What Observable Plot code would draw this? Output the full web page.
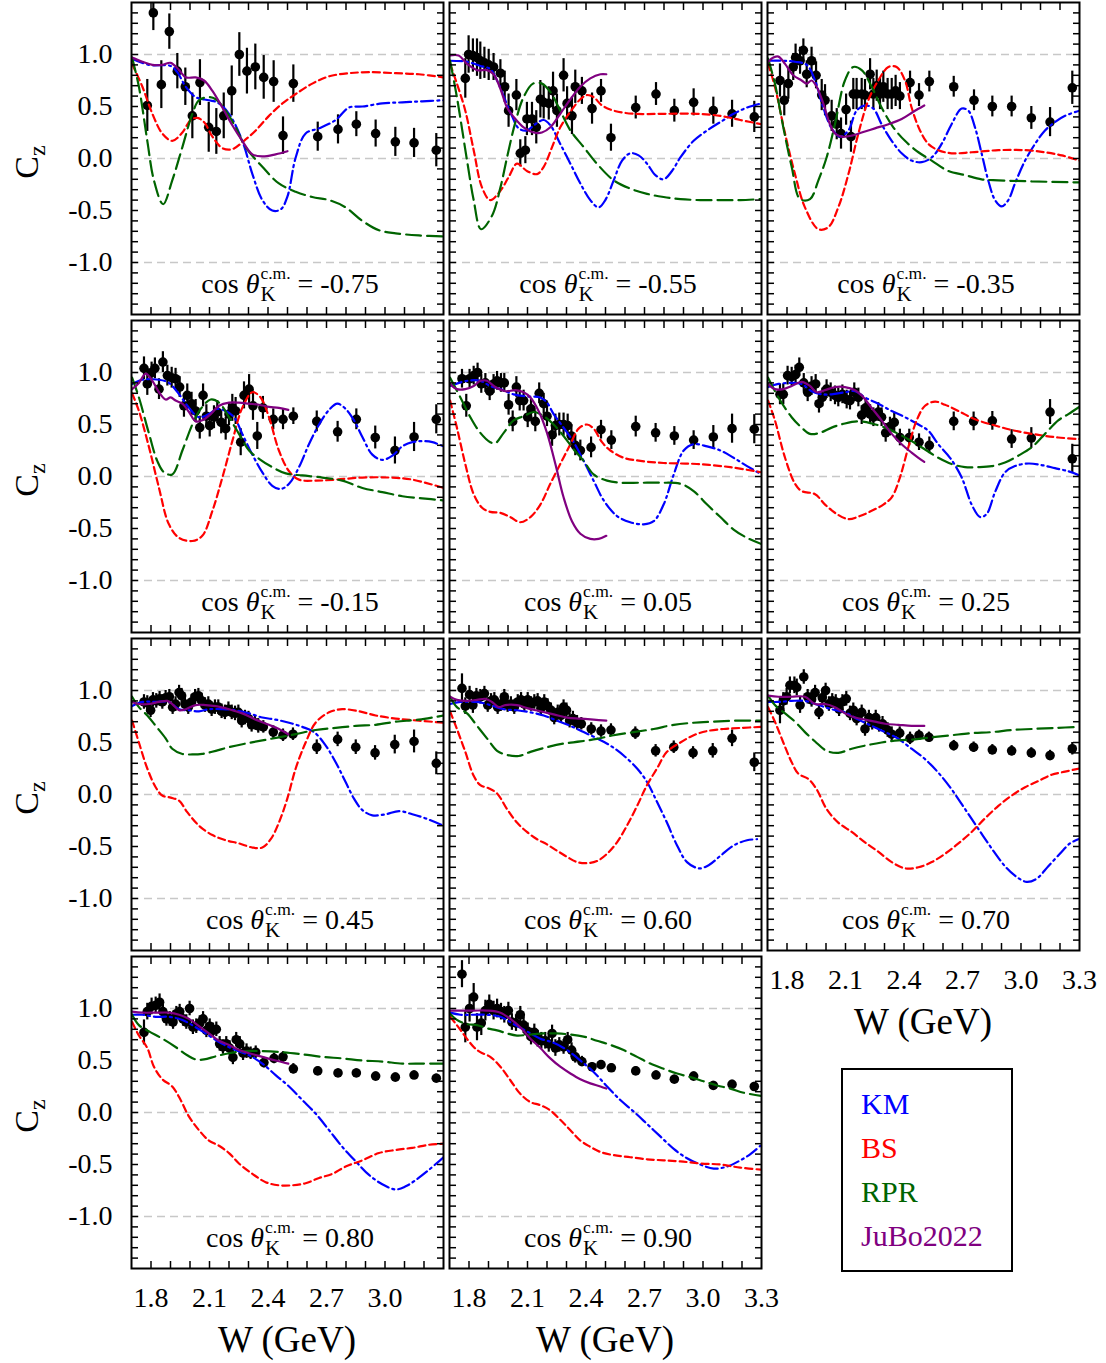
<!DOCTYPE html>
<html><head><meta charset="utf-8">
<script src="https://cdn.jsdelivr.net/npm/d3@7"></script>
<script src="https://cdn.jsdelivr.net/npm/@observablehq/plot@0.6"></script>
<style>
body{margin:0;background:#fff;}
#fig{position:relative;width:1106px;height:1363px;font-family:"Liberation Serif","Times New Roman",serif;background:#fff;}
#fig svg{position:absolute;overflow:visible;}
#legend{position:absolute;left:841px;top:1068px;width:172px;height:204px;box-sizing:border-box;border:2px solid #000;background:#fff;}
#legend div{position:absolute;left:18px;font-size:30px;line-height:30px;}
</style></head><body><div id="fig"></div><script>
// ---- tick values / labels ----
const xMinorTicks = [1.8,1.9,2.0,2.1,2.2,2.3,2.4,2.5,2.6,2.7,2.8,2.9,3.0,3.1,3.2];
const yMinorTicks = [-1.4,-1.3,-1.2,-1.1,-1.0,-0.9,-0.8,-0.7,-0.6,-0.5,-0.4,-0.3,-0.2,-0.1,0,0.1,0.2,0.3,0.4,0.5,0.6,0.7,0.8,0.9,1.0,1.1,1.2,1.3,1.4];
const yLabelTicks = [-1.0,-0.5,0.0,0.5,1.0];
const xLabelTicks = [1.8,2.1,2.4,2.7,3.0,3.3];
const xLabelTicksShort = [1.8,2.1,2.4,2.7,3.0];
const gridLines = [-1,0,1];
const cosLabels = ["-0.75","-0.55","-0.35","-0.15","0.05","0.25","0.45","0.60","0.70","0.80","0.90"];
const modelNames = ["KM","BS","RPR","JuBo2022"];
const modelColors = ["#0000ff","#ff0000","#006400","#800080"];

// ---- panel cos = -0.75 ----
const data_m075 = [[1.781,0.51,0.25],[1.812,1.40,0.17],[1.853,0.71,0.23],[1.894,1.22,0.17],[1.935,0.84,0.17],[1.976,0.69,0.18],[2.012,0.41,0.22],[2.051,0.73,0.22],[2.096,0.30,0.24],[2.135,0.26,0.22],[2.173,0.41,0.22],[2.214,0.65,0.24],[2.253,1.00,0.21],[2.292,0.84,0.22],[2.335,0.88,0.22],[2.378,0.78,0.21],[2.429,0.74,0.20],[2.477,0.22,0.18],[2.530,0.72,0.18],[2.655,0.21,0.14],[2.759,0.28,0.14],[2.853,0.33,0.12],[2.952,0.24,0.13],[3.053,0.16,0.14],[3.149,0.15,0.14],[3.263,0.08,0.16]];
const km_m075 = [[1.703,0.96],[1.79,0.90],[1.90,0.89],[1.935,0.83],[1.978,0.69],[2.029,0.59],[2.097,0.56],[2.14,0.54],[2.20,0.43],[2.268,0.17],[2.32,-0.15],[2.371,-0.40],[2.422,-0.50],[2.465,-0.49],[2.499,-0.37],[2.542,0.01],[2.593,0.24],[2.662,0.29],[2.747,0.37],[2.815,0.49],[2.884,0.50],[2.986,0.53],[3.089,0.54],[3.191,0.55],[3.30,0.56]];
const bs_m075 = [[1.703,0.91],[1.756,0.69],[1.807,0.43],[1.858,0.24],[1.909,0.17],[1.961,0.25],[2.003,0.37],[2.038,0.39],[2.072,0.35],[2.115,0.21],[2.166,0.10],[2.217,0.09],[2.277,0.17],[2.337,0.27],[2.405,0.41],[2.474,0.53],[2.542,0.62],[2.627,0.72],[2.713,0.79],[2.815,0.82],[2.918,0.83],[3.055,0.82],[3.174,0.81],[3.30,0.78]];
const rpr_m075 = [[1.703,0.97],[1.738,0.69],[1.781,0.17],[1.815,-0.21],[1.862,-0.44],[1.909,-0.21],[1.961,0.11],[2.012,0.43],[2.046,0.56],[2.097,0.59],[2.132,0.57],[2.183,0.46],[2.234,0.30],[2.285,0.11],[2.371,-0.08],[2.456,-0.24],[2.542,-0.32],[2.627,-0.37],[2.713,-0.40],[2.798,-0.47],[2.884,-0.60],[2.969,-0.69],[3.055,-0.72],[3.174,-0.74],[3.30,-0.75]];
const jubo_m075 = [[1.703,0.97],[1.756,0.93],[1.807,0.90],[1.858,0.90],[1.901,0.92],[1.944,0.85],[1.978,0.78],[2.029,0.78],[2.072,0.75],[2.115,0.65],[2.166,0.49],[2.217,0.32],[2.268,0.17],[2.32,0.04],[2.371,0.02],[2.439,0.04],[2.50,0.07]];

// ---- panel cos = -0.55 ----
const data_m055 = [[1.781,0.77,0.19],[1.798,1.00,0.18],[1.820,0.99,0.16],[1.841,0.97,0.18],[1.858,0.94,0.18],[1.879,0.92,0.15],[1.901,0.90,0.15],[1.926,0.88,0.13],[1.961,0.82,0.13],[1.983,0.69,0.15],[2.003,0.46,0.16],[2.043,0.61,0.15],[2.063,0.05,0.13],[2.089,0.08,0.13],[2.097,0.38,0.16],[2.123,0.38,0.16],[2.145,0.30,0.16],[2.166,0.57,0.18],[2.183,0.54,0.16],[2.209,0.53,0.16],[2.231,0.65,0.18],[2.251,0.46,0.16],[2.285,0.80,0.16],[2.303,0.53,0.16],[2.328,0.41,0.18],[2.345,0.69,0.16],[2.379,0.65,0.13],[2.431,0.48,0.15],[2.477,0.65,0.11],[2.528,0.20,0.13],[2.655,0.49,0.11],[2.759,0.62,0.11],[2.853,0.46,0.11],[2.952,0.54,0.13],[3.053,0.46,0.13],[3.149,0.43,0.13],[3.263,0.40,0.15]];
const km_m055 = [[1.703,0.94],[1.79,0.93],[1.858,0.89],[1.909,0.86],[1.944,0.75],[1.986,0.56],[2.02,0.41],[2.055,0.29],[2.097,0.27],[2.14,0.33],[2.183,0.37],[2.217,0.32],[2.268,0.14],[2.32,-0.05],[2.371,-0.24],[2.422,-0.40],[2.465,-0.47],[2.499,-0.40],[2.542,-0.21],[2.585,-0.02],[2.627,0.05],[2.67,0.03],[2.713,-0.05],[2.756,-0.16],[2.798,-0.20],[2.841,-0.12],[2.884,0.01],[2.952,0.17],[3.021,0.27],[3.089,0.35],[3.157,0.43],[3.226,0.49],[3.30,0.53]];
const bs_m055 = [[1.703,0.91],[1.738,0.72],[1.781,0.46],[1.824,0.08],[1.867,-0.28],[1.909,-0.40],[1.961,-0.31],[2.003,-0.18],[2.046,-0.05],[2.097,-0.12],[2.149,-0.15],[2.183,-0.08],[2.226,0.11],[2.268,0.30],[2.32,0.45],[2.371,0.57],[2.405,0.61],[2.439,0.59],[2.482,0.51],[2.542,0.46],[2.644,0.43],[2.798,0.43],[2.969,0.43],[3.089,0.41],[3.191,0.37],[3.30,0.33]];
const rpr_m055 = [[1.703,0.94],[1.738,0.59],[1.79,-0.02],[1.824,-0.40],[1.862,-0.68],[1.918,-0.55],[1.961,-0.28],[1.995,0.01],[2.038,0.35],[2.08,0.59],[2.128,0.72],[2.174,0.72],[2.217,0.64],[2.268,0.46],[2.32,0.27],[2.388,0.11],[2.456,-0.05],[2.542,-0.21],[2.627,-0.29],[2.713,-0.34],[2.798,-0.37],[2.884,-0.39],[2.986,-0.40],[3.089,-0.40],[3.191,-0.40],[3.30,-0.39]];
const jubo_m055 = [[1.703,0.99],[1.747,0.99],[1.79,0.91],[1.841,0.85],[1.892,0.85],[1.926,0.81],[1.961,0.67],[1.995,0.49],[2.029,0.40],[2.08,0.30],[2.132,0.25],[2.174,0.25],[2.217,0.30],[2.268,0.43],[2.32,0.57],[2.371,0.69],[2.422,0.77],[2.474,0.81],[2.504,0.81]];

// ---- panel cos = -0.35 ----
const data_m035 = [[1.764,0.75,0.16],[1.786,0.56,0.15],[1.807,0.72,0.15],[1.832,0.88,0.13],[1.844,0.97,0.13],[1.867,0.94,0.13],[1.884,1.04,0.11],[1.901,0.81,0.13],[1.926,0.94,0.13],[1.949,0.80,0.13],[1.978,0.61,0.15],[1.995,0.56,0.15],[2.029,0.41,0.15],[2.055,0.33,0.15],[2.077,0.24,0.15],[2.103,0.47,0.15],[2.128,0.21,0.15],[2.140,0.62,0.15],[2.157,0.62,0.15],[2.183,0.62,0.15],[2.200,0.61,0.15],[2.226,0.81,0.15],[2.243,0.62,0.15],[2.260,0.70,0.15],[2.277,0.62,0.15],[2.294,0.69,0.15],[2.316,0.62,0.15],[2.337,0.62,0.15],[2.357,0.65,0.15],[2.379,0.60,0.13],[2.431,0.73,0.11],[2.477,0.61,0.11],[2.530,0.74,0.10],[2.655,0.69,0.10],[2.759,0.56,0.10],[2.853,0.50,0.10],[2.952,0.50,0.10],[3.053,0.39,0.11],[3.149,0.35,0.14],[3.263,0.68,0.16]];
const km_m035 = [[1.703,0.94],[1.773,0.94],[1.841,0.93],[1.901,0.90],[1.944,0.75],[1.986,0.49],[2.029,0.29],[2.072,0.21],[2.115,0.27],[2.157,0.46],[2.20,0.51],[2.243,0.48],[2.285,0.33],[2.337,0.17],[2.388,0.05],[2.439,-0.02],[2.491,-0.035],[2.542,0.01],[2.593,0.14],[2.644,0.33],[2.696,0.48],[2.73,0.46],[2.764,0.30],[2.798,0.05],[2.832,-0.21],[2.867,-0.40],[2.901,-0.46],[2.935,-0.40],[2.969,-0.24],[3.021,-0.02],[3.072,0.14],[3.123,0.27],[3.174,0.35],[3.226,0.41],[3.30,0.46]];
const bs_m035 = [[1.703,0.91],[1.738,0.69],[1.79,0.24],[1.841,-0.15],[1.892,-0.47],[1.961,-0.68],[2.012,-0.66],[2.063,-0.47],[2.115,-0.15],[2.166,0.24],[2.217,0.56],[2.268,0.75],[2.32,0.88],[2.362,0.88],[2.405,0.75],[2.439,0.49],[2.482,0.27],[2.525,0.14],[2.576,0.08],[2.644,0.05],[2.747,0.06],[2.884,0.08],[3.021,0.08],[3.123,0.06],[3.209,0.03],[3.30,-0.02]];
const rpr_m035 = [[1.703,0.96],[1.738,0.72],[1.781,0.30],[1.824,-0.08],[1.867,-0.39],[1.918,-0.39],[1.961,-0.21],[2.003,0.01],[2.046,0.33],[2.097,0.75],[2.14,0.88],[2.183,0.85],[2.234,0.69],[2.285,0.49],[2.345,0.30],[2.405,0.17],[2.474,0.06],[2.542,-0.02],[2.627,-0.12],[2.713,-0.16],[2.798,-0.20],[2.884,-0.21],[3.055,-0.22],[3.30,-0.23]];
const jubo_m035 = [[1.703,0.93],[1.73,0.97],[1.756,0.98],[1.79,0.91],[1.832,0.80],[1.875,0.75],[1.901,0.72],[1.926,0.75],[1.952,0.69],[1.986,0.53],[2.02,0.33],[2.046,0.24],[2.08,0.21],[2.132,0.22],[2.183,0.25],[2.251,0.29],[2.32,0.33],[2.388,0.38],[2.448,0.45],[2.504,0.51]];

// ---- panel cos = -0.15 ----
const data_m015 = [[1.764,1.04,0.11],[1.781,0.89,0.11],[1.803,1.00,0.10],[1.820,1.04,0.10],[1.841,0.84,0.10],[1.861,1.10,0.10],[1.884,0.97,0.10],[1.906,0.95,0.10],[1.926,0.94,0.10],[1.947,0.86,0.10],[1.969,0.68,0.11],[1.986,0.78,0.11],[2.008,0.70,0.11],[2.029,0.63,0.11],[2.050,0.47,0.11],[2.067,0.78,0.11],[2.084,0.58,0.11],[2.101,0.49,0.11],[2.123,0.57,0.11],[2.140,0.62,0.11],[2.160,0.52,0.11],[2.183,0.46,0.11],[2.200,0.60,0.11],[2.217,0.66,0.13],[2.234,0.63,0.13],[2.260,0.33,0.13],[2.277,0.78,0.13],[2.303,0.84,0.14],[2.323,0.68,0.14],[2.345,0.39,0.13],[2.374,0.66,0.11],[2.427,0.55,0.10],[2.477,0.55,0.10],[2.530,0.58,0.08],[2.650,0.53,0.10],[2.757,0.43,0.10],[2.853,0.55,0.10],[2.950,0.375,0.11],[3.051,0.25,0.13],[3.149,0.38,0.14],[3.263,0.55,0.14]];
const km_m015 = [[1.703,0.89],[1.756,0.93],[1.841,0.93],[1.892,0.90],[1.944,0.79],[1.995,0.66],[2.046,0.57],[2.097,0.60],[2.14,0.65],[2.183,0.63],[2.226,0.57],[2.268,0.41],[2.32,0.21],[2.371,0.04],[2.422,-0.09],[2.465,-0.12],[2.508,-0.07],[2.559,0.09],[2.61,0.31],[2.662,0.50],[2.713,0.64],[2.756,0.70],[2.798,0.65],[2.841,0.54],[2.884,0.38],[2.935,0.21],[2.986,0.16],[3.038,0.20],[3.089,0.29],[3.14,0.33],[3.191,0.34],[3.243,0.33],[3.30,0.29]];
const bs_m015 = [[1.703,0.80],[1.738,0.63],[1.79,0.28],[1.841,-0.11],[1.892,-0.46],[1.944,-0.59],[2.012,-0.62],[2.063,-0.57],[2.115,-0.33],[2.166,-0.01],[2.217,0.34],[2.268,0.66],[2.32,0.81],[2.362,0.76],[2.405,0.57],[2.456,0.25],[2.508,0.05],[2.559,-0.03],[2.644,-0.04],[2.747,-0.03],[2.884,-0.01],[3.021,-0.01],[3.14,-0.03],[3.30,-0.11]];
const rpr_m015 = [[1.703,0.95],[1.738,0.76],[1.79,0.41],[1.832,0.15],[1.867,0.04],[1.909,0.02],[1.961,0.25],[2.012,0.50],[2.055,0.65],[2.106,0.74],[2.149,0.71],[2.2,0.57],[2.251,0.41],[2.303,0.25],[2.354,0.17],[2.422,0.09],[2.491,0.03],[2.576,0.01],[2.679,-0.01],[2.781,-0.04],[2.884,-0.11],[2.986,-0.15],[3.089,-0.19],[3.191,-0.21],[3.30,-0.23]];
const jubo_m015 = [[1.703,0.84],[1.738,0.90],[1.773,0.99],[1.807,0.92],[1.841,0.81],[1.875,0.74],[1.901,0.76],[1.926,0.73],[1.961,0.70],[1.995,0.62],[2.029,0.53],[2.063,0.54],[2.106,0.60],[2.149,0.68],[2.2,0.71],[2.251,0.71],[2.303,0.70],[2.354,0.69],[2.405,0.67],[2.456,0.66],[2.504,0.64]];

// ---- panel cos = 0.05 ----
const data_p005 = [[1.764,0.94,0.09],[1.786,0.68,0.11],[1.803,0.94,0.09],[1.824,0.97,0.09],[1.844,1.00,0.09],[1.863,0.89,0.09],[1.884,0.90,0.09],[1.906,0.82,0.09],[1.926,0.89,0.09],[1.944,0.92,0.09],[1.964,0.90,0.09],[1.981,0.90,0.09],[2.003,0.69,0.10],[2.024,0.53,0.10],[2.043,0.86,0.10],[2.060,0.73,0.10],[2.080,0.73,0.10],[2.101,0.57,0.10],[2.118,0.65,0.10],[2.140,0.53,0.10],[2.160,0.80,0.10],[2.183,0.70,0.10],[2.200,0.58,0.10],[2.226,0.40,0.11],[2.243,0.49,0.11],[2.263,0.50,0.11],[2.285,0.50,0.11],[2.306,0.49,0.11],[2.325,0.39,0.11],[2.345,0.30,0.10],[2.371,0.25,0.10],[2.426,0.28,0.10],[2.477,0.45,0.09],[2.530,0.35,0.09],[2.655,0.48,0.10],[2.757,0.42,0.09],[2.853,0.39,0.09],[2.952,0.35,0.09],[3.053,0.38,0.11],[3.149,0.46,0.14],[3.263,0.455,0.14]];
const km_p005 = [[1.703,0.87],[1.79,0.92],[1.858,0.92],[1.909,0.87],[1.961,0.84],[2.029,0.79],[2.097,0.77],[2.166,0.76],[2.2,0.71],[2.234,0.60],[2.285,0.47],[2.337,0.33],[2.388,0.15],[2.439,-0.04],[2.491,-0.23],[2.559,-0.38],[2.627,-0.44],[2.696,-0.46],[2.747,-0.43],[2.798,-0.27],[2.85,0.02],[2.901,0.25],[2.952,0.31],[3.021,0.29],[3.089,0.25],[3.157,0.18],[3.226,0.10],[3.30,0.02]];
const bs_p005 = [[1.703,0.73],[1.738,0.47],[1.781,0.12],[1.824,-0.17],[1.867,-0.30],[1.909,-0.34],[1.961,-0.35],[2.012,-0.39],[2.063,-0.44],[2.115,-0.39],[2.166,-0.27],[2.217,-0.07],[2.268,0.12],[2.32,0.31],[2.362,0.46],[2.405,0.50],[2.439,0.46],[2.482,0.33],[2.525,0.25],[2.593,0.18],[2.679,0.15],[2.798,0.13],[2.969,0.12],[3.14,0.09],[3.30,0.04]];
const rpr_p005 = [[1.703,0.95],[1.756,0.76],[1.807,0.57],[1.858,0.42],[1.909,0.33],[1.935,0.32],[1.978,0.42],[2.029,0.54],[2.08,0.58],[2.132,0.62],[2.183,0.58],[2.234,0.50],[2.285,0.39],[2.337,0.26],[2.388,0.15],[2.439,0.02],[2.508,-0.04],[2.576,-0.06],[2.679,-0.06],[2.781,-0.06],[2.884,-0.07],[2.952,-0.14],[3.021,-0.27],[3.089,-0.39],[3.157,-0.51],[3.226,-0.59],[3.30,-0.65]];
const jubo_p005 = [[1.703,0.89],[1.738,0.84],[1.781,0.84],[1.824,0.87],[1.858,0.92],[1.892,0.92],[1.935,0.86],[1.986,0.82],[2.038,0.83],[2.08,0.81],[2.115,0.76],[2.157,0.63],[2.2,0.42],[2.243,0.12],[2.285,-0.20],[2.328,-0.43],[2.371,-0.55],[2.422,-0.60],[2.465,-0.60],[2.504,-0.57]];

// ---- panel cos = 0.25 ----
const data_p025 = [[1.764,0.79,0.10],[1.781,0.79,0.10],[1.803,0.97,0.09],[1.824,0.96,0.09],[1.844,0.98,0.09],[1.863,1.05,0.09],[1.886,0.90,0.09],[1.906,0.81,0.09],[1.926,0.87,0.09],[1.947,0.89,0.09],[1.964,0.70,0.09],[1.981,0.76,0.09],[2.003,0.84,0.09],[2.024,0.81,0.09],[2.046,0.78,0.09],[2.063,0.76,0.09],[2.084,0.79,0.09],[2.106,0.74,0.09],[2.123,0.73,0.09],[2.145,0.81,0.09],[2.166,0.76,0.09],[2.183,0.59,0.09],[2.203,0.66,0.09],[2.226,0.60,0.09],[2.243,0.57,0.09],[2.268,0.62,0.09],[2.285,0.57,0.09],[2.306,0.42,0.09],[2.328,0.48,0.09],[2.350,0.52,0.09],[2.379,0.375,0.08],[2.427,0.375,0.08],[2.477,0.33,0.08],[2.530,0.30,0.08],[2.655,0.53,0.09],[2.757,0.53,0.09],[2.853,0.535,0.09],[2.952,0.36,0.09],[3.053,0.37,0.10],[3.149,0.62,0.12],[3.263,0.17,0.14]];
const km_p025 = [[1.703,0.86],[1.756,0.89],[1.824,0.90],[1.875,0.89],[1.926,0.82],[1.978,0.79],[2.029,0.79],[2.097,0.81],[2.149,0.82],[2.2,0.76],[2.268,0.70],[2.337,0.63],[2.405,0.57],[2.474,0.50],[2.525,0.44],[2.576,0.31],[2.636,0.18],[2.696,-0.01],[2.747,-0.27],[2.79,-0.39],[2.824,-0.36],[2.867,-0.15],[2.918,0.04],[2.969,0.10],[3.038,0.125],[3.106,0.11],[3.174,0.08],[3.243,0.05],[3.30,0.01]];
const bs_p025 = [[1.703,0.73],[1.738,0.54],[1.79,0.18],[1.841,-0.07],[1.875,-0.14],[1.944,-0.17],[1.995,-0.27],[2.055,-0.36],[2.115,-0.41],[2.174,-0.38],[2.234,-0.33],[2.294,-0.27],[2.337,-0.20],[2.379,-0.01],[2.422,0.28],[2.465,0.54],[2.508,0.68],[2.559,0.72],[2.61,0.69],[2.679,0.63],[2.764,0.55],[2.867,0.49],[2.969,0.44],[3.089,0.40],[3.191,0.375],[3.30,0.36]];
const rpr_p025 = [[1.703,0.95],[1.756,0.76],[1.824,0.57],[1.875,0.47],[1.918,0.41],[1.969,0.42],[2.029,0.47],[2.097,0.51],[2.166,0.53],[2.234,0.51],[2.303,0.47],[2.371,0.41],[2.439,0.34],[2.508,0.26],[2.576,0.18],[2.644,0.12],[2.713,0.09],[2.781,0.09],[2.85,0.10],[2.918,0.135],[2.986,0.20],[3.055,0.28],[3.123,0.41],[3.191,0.54],[3.243,0.60],[3.30,0.67]];
const jubo_p025 = [[1.703,0.89],[1.738,0.84],[1.781,0.84],[1.824,0.87],[1.875,0.91],[1.918,0.87],[1.952,0.81],[1.995,0.83],[2.046,0.86],[2.097,0.86],[2.149,0.83],[2.183,0.78],[2.234,0.66],[2.285,0.54],[2.337,0.41],[2.388,0.31],[2.439,0.23],[2.474,0.18],[2.504,0.14]];

// ---- panel cos = 0.45 ----
const data_p045 = [[1.764,0.89,0.07],[1.781,0.88,0.07],[1.798,0.81,0.07],[1.810,0.91,0.07],[1.827,0.90,0.07],[1.844,0.92,0.07],[1.858,0.89,0.07],[1.875,0.93,0.07],[1.894,0.94,0.07],[1.911,0.84,0.07],[1.926,0.87,0.07],[1.944,0.98,0.07],[1.957,0.95,0.07],[1.974,0.87,0.07],[1.991,0.84,0.07],[2.008,0.89,0.07],[2.026,0.94,0.07],[2.043,0.95,0.07],[2.060,0.90,0.07],[2.077,0.86,0.07],[2.094,0.87,0.07],[2.111,0.82,0.07],[2.128,0.84,0.07],[2.145,0.84,0.07],[2.162,0.80,0.07],[2.179,0.79,0.07],[2.197,0.82,0.07],[2.214,0.79,0.07],[2.231,0.78,0.07],[2.248,0.79,0.07],[2.265,0.71,0.07],[2.282,0.74,0.07],[2.300,0.73,0.07],[2.316,0.67,0.07],[2.333,0.69,0.07],[2.350,0.66,0.07],[2.376,0.65,0.06],[2.427,0.60,0.06],[2.477,0.57,0.06],[2.528,0.58,0.06],[2.650,0.455,0.07],[2.757,0.53,0.07],[2.850,0.455,0.07],[2.949,0.40,0.07],[3.050,0.48,0.09],[3.149,0.51,0.11],[3.263,0.30,0.11]];
const km_p045 = [[1.703,0.85],[1.756,0.89],[1.824,0.89],[1.892,0.89],[1.944,0.82],[1.995,0.81],[2.046,0.80],[2.097,0.82],[2.166,0.82],[2.234,0.81],[2.303,0.78],[2.371,0.74],[2.439,0.72],[2.508,0.69],[2.576,0.65],[2.636,0.60],[2.696,0.47],[2.747,0.31],[2.798,0.12],[2.841,-0.04],[2.884,-0.15],[2.935,-0.20],[3.003,-0.19],[3.072,-0.16],[3.14,-0.19],[3.209,-0.23],[3.30,-0.30]];
const bs_p045 = [[1.703,0.71],[1.738,0.50],[1.781,0.25],[1.824,0.07],[1.858,-0.01],[1.901,-0.03],[1.944,-0.06],[1.986,-0.17],[2.046,-0.30],[2.115,-0.39],[2.183,-0.44],[2.251,-0.47],[2.32,-0.51],[2.371,-0.51],[2.414,-0.43],[2.456,-0.27],[2.499,-0.04],[2.542,0.25],[2.593,0.50],[2.644,0.69],[2.713,0.79],[2.781,0.82],[2.867,0.80],[2.952,0.76],[3.055,0.73],[3.174,0.71],[3.30,0.69]];
const rpr_p045 = [[1.703,0.94],[1.738,0.84],[1.781,0.76],[1.824,0.66],[1.875,0.54],[1.909,0.44],[1.961,0.39],[2.012,0.385],[2.063,0.39],[2.132,0.42],[2.2,0.455],[2.285,0.49],[2.371,0.52],[2.456,0.55],[2.542,0.58],[2.644,0.62],[2.747,0.64],[2.85,0.66],[2.952,0.67],[3.055,0.70],[3.174,0.72],[3.30,0.76]];
const jubo_p045 = [[1.703,0.89],[1.738,0.87],[1.79,0.87],[1.841,0.89],[1.884,0.90],[1.909,0.87],[1.944,0.81],[1.978,0.82],[2.029,0.86],[2.08,0.86],[2.132,0.85],[2.2,0.82],[2.268,0.78],[2.337,0.72],[2.405,0.67],[2.456,0.63],[2.504,0.58]];

// ---- panel cos = 0.60 ----
const data_p060 = [[1.764,1.02,0.14],[1.781,0.85,0.08],[1.803,0.96,0.08],[1.820,0.86,0.08],[1.838,0.95,0.07],[1.858,0.94,0.07],[1.879,0.97,0.07],[1.896,0.86,0.07],[1.913,0.90,0.07],[1.930,0.91,0.07],[1.947,0.84,0.07],[1.964,0.87,0.07],[1.981,0.94,0.07],[1.998,0.86,0.07],[2.015,0.87,0.07],[2.032,0.84,0.07],[2.050,0.89,0.07],[2.067,0.91,0.07],[2.084,0.87,0.07],[2.101,0.91,0.07],[2.118,0.87,0.07],[2.135,0.89,0.07],[2.152,0.90,0.07],[2.169,0.83,0.07],[2.186,0.89,0.07],[2.203,0.85,0.07],[2.220,0.81,0.07],[2.237,0.74,0.07],[2.255,0.79,0.07],[2.272,0.76,0.07],[2.285,0.84,0.07],[2.300,0.81,0.07],[2.316,0.71,0.07],[2.333,0.73,0.07],[2.354,0.69,0.07],[2.376,0.68,0.06],[2.427,0.63,0.06],[2.477,0.61,0.06],[2.528,0.62,0.06],[2.653,0.59,0.06],[2.757,0.42,0.06],[2.850,0.455,0.06],[2.949,0.40,0.06],[3.050,0.42,0.07],[3.149,0.54,0.08],[3.263,0.31,0.09]];
const km_p060 = [[1.703,0.87],[1.756,0.89],[1.841,0.89],[1.909,0.86],[1.978,0.82],[2.046,0.81],[2.115,0.79],[2.183,0.76],[2.251,0.71],[2.32,0.66],[2.388,0.60],[2.456,0.54],[2.525,0.47],[2.593,0.375],[2.662,0.25],[2.713,0.12],[2.764,-0.07],[2.815,-0.27],[2.867,-0.49],[2.918,-0.65],[2.978,-0.71],[3.029,-0.68],[3.089,-0.59],[3.157,-0.49],[3.226,-0.44],[3.277,-0.43]];
const bs_p060 = [[1.703,0.80],[1.738,0.63],[1.781,0.41],[1.824,0.18],[1.858,0.09],[1.901,0.06],[1.944,0.01],[1.995,-0.14],[2.046,-0.27],[2.097,-0.36],[2.149,-0.43],[2.2,-0.48],[2.251,-0.54],[2.303,-0.60],[2.354,-0.65],[2.405,-0.66],[2.456,-0.64],[2.508,-0.57],[2.559,-0.46],[2.61,-0.30],[2.662,-0.11],[2.713,0.09],[2.764,0.25],[2.815,0.41],[2.884,0.50],[2.952,0.57],[3.021,0.61],[3.106,0.63],[3.191,0.64],[3.30,0.65]];
const rpr_p060 = [[1.703,0.94],[1.738,0.84],[1.79,0.78],[1.841,0.66],[1.892,0.54],[1.944,0.42],[1.995,0.38],[2.055,0.37],[2.115,0.41],[2.2,0.455],[2.285,0.49],[2.371,0.51],[2.456,0.535],[2.542,0.57],[2.644,0.60],[2.747,0.63],[2.85,0.67],[2.952,0.69],[3.055,0.70],[3.174,0.71],[3.30,0.71]];
const jubo_p060 = [[1.703,0.94],[1.738,0.91],[1.79,0.90],[1.841,0.91],[1.884,0.92],[1.918,0.89],[1.952,0.84],[1.986,0.86],[2.046,0.86],[2.097,0.83],[2.166,0.80],[2.234,0.77],[2.303,0.74],[2.371,0.73],[2.439,0.72],[2.504,0.71]];

// ---- panel cos = 0.70 ----
const data_p070 = [[1.764,0.81,0.13],[1.781,0.90,0.08],[1.798,0.94,0.08],[1.815,1.05,0.08],[1.838,1.05,0.08],[1.850,1.03,0.08],[1.867,0.86,0.08],[1.886,1.13,0.07],[1.906,0.94,0.07],[1.926,0.91,0.07],[1.944,0.98,0.07],[1.964,0.79,0.07],[1.981,0.93,0.07],[1.998,1.00,0.07],[2.015,0.87,0.07],[2.032,0.90,0.07],[2.050,0.89,0.07],[2.067,0.82,0.07],[2.084,0.89,0.07],[2.104,0.92,0.07],[2.123,0.78,0.07],[2.140,0.81,0.07],[2.157,0.73,0.07],[2.183,0.79,0.07],[2.200,0.63,0.07],[2.220,0.74,0.07],[2.237,0.69,0.07],[2.255,0.74,0.07],[2.272,0.67,0.07],[2.290,0.68,0.07],[2.316,0.62,0.07],[2.337,0.58,0.07],[2.378,0.59,0.06],[2.431,0.54,0.06],[2.477,0.57,0.05],[2.528,0.55,0.05],[2.655,0.47,0.05],[2.757,0.455,0.05],[2.853,0.43,0.05],[2.952,0.42,0.05],[3.053,0.40,0.05],[3.149,0.375,0.05],[3.263,0.44,0.06]];
const km_p070 = [[1.703,0.89],[1.756,0.89],[1.824,0.90],[1.892,0.90],[1.961,0.86],[2.029,0.82],[2.097,0.79],[2.166,0.72],[2.234,0.66],[2.303,0.60],[2.371,0.535],[2.439,0.44],[2.508,0.34],[2.576,0.21],[2.644,0.05],[2.713,-0.14],[2.781,-0.33],[2.85,-0.52],[2.918,-0.69],[2.969,-0.78],[3.029,-0.84],[3.08,-0.81],[3.14,-0.69],[3.209,-0.55],[3.251,-0.47],[3.294,-0.43]];
const bs_p070 = [[1.703,0.84],[1.738,0.70],[1.781,0.50],[1.824,0.31],[1.858,0.20],[1.909,0.15],[1.952,0.05],[2.003,-0.14],[2.063,-0.27],[2.132,-0.36],[2.2,-0.46],[2.268,-0.55],[2.337,-0.65],[2.405,-0.71],[2.474,-0.70],[2.542,-0.65],[2.61,-0.57],[2.679,-0.47],[2.747,-0.36],[2.815,-0.23],[2.884,-0.11],[2.952,-0.01],[3.021,0.07],[3.089,0.13],[3.157,0.19],[3.226,0.22],[3.30,0.25]];
const rpr_p070 = [[1.703,0.95],[1.738,0.86],[1.79,0.78],[1.841,0.70],[1.892,0.60],[1.944,0.51],[2.003,0.42],[2.063,0.40],[2.132,0.44],[2.2,0.47],[2.285,0.50],[2.371,0.52],[2.456,0.53],[2.542,0.55],[2.644,0.57],[2.747,0.59],[2.85,0.60],[2.952,0.62],[3.055,0.63],[3.174,0.64],[3.30,0.65]];
const jubo_p070 = [[1.703,0.95],[1.756,0.94],[1.824,0.94],[1.892,0.94],[1.944,0.87],[1.995,0.87],[2.046,0.84],[2.097,0.78],[2.149,0.74],[2.2,0.72],[2.251,0.70],[2.303,0.68],[2.371,0.67],[2.439,0.66],[2.504,0.66]];

// ---- panel cos = 0.80 ----
const data_p080 = [[1.764,0.77,0.12],[1.781,0.97,0.08],[1.803,1.02,0.08],[1.824,1.03,0.08],[1.844,1.06,0.08],[1.861,0.97,0.07],[1.879,0.90,0.07],[1.896,0.90,0.07],[1.913,0.87,0.07],[1.930,0.95,0.07],[1.947,0.97,0.07],[1.964,0.90,0.07],[1.981,0.87,0.07],[1.998,1.00,0.07],[2.015,0.82,0.07],[2.032,0.83,0.07],[2.050,0.86,0.07],[2.067,0.90,0.07],[2.084,0.79,0.07],[2.101,0.83,0.07],[2.118,0.79,0.07],[2.135,0.80,0.07],[2.152,0.66,0.07],[2.169,0.63,0.07],[2.186,0.66,0.07],[2.203,0.62,0.07],[2.220,0.53,0.07],[2.237,0.70,0.07],[2.255,0.66,0.07],[2.272,0.57,0.07],[2.290,0.59,0.07],[2.311,0.57,0.06],[2.337,0.58,0.06],[2.379,0.48,0.05],[2.431,0.52,0.05],[2.477,0.535,0.05],[2.530,0.42,0.05],[2.655,0.40,0.04],[2.759,0.38,0.04],[2.853,0.38,0.04],[2.952,0.35,0.04],[3.053,0.34,0.04],[3.149,0.36,0.04],[3.263,0.33,0.04]];
const km_p080 = [[1.703,0.94],[1.756,0.94],[1.824,0.92],[1.892,0.92],[1.961,0.89],[2.029,0.82],[2.097,0.74],[2.166,0.66],[2.234,0.60],[2.303,0.55],[2.371,0.47],[2.439,0.36],[2.508,0.25],[2.576,0.12],[2.644,-0.01],[2.713,-0.17],[2.781,-0.33],[2.85,-0.47],[2.918,-0.60],[2.986,-0.69],[3.055,-0.74],[3.106,-0.71],[3.157,-0.65],[3.226,-0.55],[3.30,-0.43]];
const bs_p080 = [[1.703,0.87],[1.738,0.74],[1.781,0.62],[1.815,0.44],[1.858,0.32],[1.909,0.25],[1.952,0.12],[1.995,-0.04],[2.046,-0.17],[2.097,-0.27],[2.149,-0.32],[2.2,-0.39],[2.251,-0.49],[2.32,-0.59],[2.388,-0.67],[2.456,-0.70],[2.525,-0.70],[2.593,-0.68],[2.662,-0.63],[2.73,-0.59],[2.798,-0.52],[2.884,-0.46],[2.969,-0.39],[3.055,-0.36],[3.14,-0.34],[3.226,-0.31],[3.30,-0.30]];
const rpr_p080 = [[1.703,0.94],[1.738,0.84],[1.79,0.78],[1.858,0.71],[1.926,0.63],[1.986,0.55],[2.029,0.51],[2.072,0.51],[2.132,0.54],[2.2,0.57],[2.285,0.59],[2.371,0.59],[2.474,0.58],[2.576,0.56],[2.679,0.535],[2.781,0.52],[2.884,0.50],[2.986,0.49],[3.089,0.47],[3.191,0.47],[3.30,0.47]];
const jubo_p080 = [[1.703,0.97],[1.756,0.96],[1.824,0.96],[1.892,0.96],[1.944,0.94],[1.995,0.90],[2.046,0.83],[2.097,0.76],[2.149,0.69],[2.2,0.65],[2.251,0.60],[2.303,0.57],[2.371,0.535],[2.439,0.50],[2.504,0.47]];

// ---- panel cos = 0.90 ----
const data_p090 = [[1.764,1.33,0.13],[1.781,0.82,0.15],[1.803,1.00,0.13],[1.824,1.11,0.13],[1.841,0.82,0.13],[1.863,0.86,0.12],[1.884,0.98,0.10],[1.904,1.04,0.09],[1.926,0.98,0.09],[1.944,1.00,0.09],[1.964,0.97,0.08],[1.981,0.94,0.08],[2.002,0.98,0.08],[2.020,0.87,0.08],[2.041,0.86,0.08],[2.063,0.94,0.08],[2.080,0.84,0.08],[2.101,0.78,0.08],[2.118,0.73,0.08],[2.135,0.77,0.08],[2.152,0.71,0.08],[2.171,0.69,0.08],[2.191,0.69,0.08],[2.209,0.66,0.08],[2.226,0.76,0.08],[2.243,0.62,0.08],[2.263,0.65,0.07],[2.285,0.63,0.07],[2.306,0.70,0.07],[2.326,0.60,0.07],[2.345,0.535,0.06],[2.379,0.49,0.05],[2.431,0.44,0.04],[2.477,0.46,0.04],[2.530,0.43,0.04],[2.655,0.40,0.04],[2.759,0.36,0.04],[2.853,0.32,0.04],[2.952,0.35,0.04],[3.053,0.26,0.04],[3.149,0.27,0.04],[3.263,0.25,0.04]];
const km_p090 = [[1.703,0.96],[1.756,0.94],[1.824,0.94],[1.892,0.94],[1.961,0.92],[2.029,0.85],[2.097,0.78],[2.166,0.71],[2.234,0.67],[2.303,0.60],[2.371,0.50],[2.439,0.39],[2.508,0.25],[2.576,0.12],[2.644,0.01],[2.713,-0.11],[2.781,-0.23],[2.85,-0.35],[2.918,-0.44],[2.986,-0.50],[3.055,-0.54],[3.123,-0.52],[3.191,-0.46],[3.243,-0.40],[3.294,-0.32]];
const bs_p090 = [[1.703,0.92],[1.738,0.84],[1.781,0.73],[1.824,0.63],[1.858,0.58],[1.909,0.535],[1.961,0.44],[2.012,0.31],[2.063,0.18],[2.115,0.10],[2.166,0.07],[2.217,0.02],[2.268,-0.07],[2.32,-0.17],[2.371,-0.27],[2.422,-0.33],[2.474,-0.38],[2.542,-0.41],[2.627,-0.43],[2.713,-0.45],[2.798,-0.46],[2.884,-0.47],[2.986,-0.49],[3.089,-0.50],[3.191,-0.53],[3.30,-0.55]];
const rpr_p090 = [[1.703,0.95],[1.738,0.89],[1.79,0.85],[1.841,0.84],[1.892,0.81],[1.944,0.79],[1.995,0.76],[2.046,0.74],[2.115,0.75],[2.183,0.76],[2.251,0.76],[2.32,0.75],[2.388,0.73],[2.456,0.69],[2.525,0.65],[2.593,0.60],[2.662,0.535],[2.73,0.47],[2.798,0.42],[2.867,0.375],[2.935,0.34],[3.003,0.30],[3.072,0.26],[3.14,0.23],[3.209,0.19],[3.30,0.16]];
const jubo_p090 = [[1.703,0.98],[1.756,0.98],[1.824,0.98],[1.892,0.98],[1.961,0.96],[2.012,0.90],[2.063,0.82],[2.115,0.71],[2.166,0.62],[2.217,0.52],[2.268,0.44],[2.32,0.375],[2.371,0.32],[2.422,0.28],[2.474,0.25],[2.504,0.23]];

// ---- table built from the arrays above ----
const panels = [
  [data_m075, km_m075, bs_m075, rpr_m075, jubo_m075],
  [data_m055, km_m055, bs_m055, rpr_m055, jubo_m055],
  [data_m035, km_m035, bs_m035, rpr_m035, jubo_m035],
  [data_m015, km_m015, bs_m015, rpr_m015, jubo_m015],
  [data_p005, km_p005, bs_p005, rpr_p005, jubo_p005],
  [data_p025, km_p025, bs_p025, rpr_p025, jubo_p025],
  [data_p045, km_p045, bs_p045, rpr_p045, jubo_p045],
  [data_p060, km_p060, bs_p060, rpr_p060, jubo_p060],
  [data_p070, km_p070, bs_p070, rpr_p070, jubo_p070],
  [data_p080, km_p080, bs_p080, rpr_p080, jubo_p080],
  [data_p090, km_p090, bs_p090, rpr_p090, jubo_p090]
].map((a, i) => ({label: cosLabels[i], data: a[0], km: a[1], bs: a[2], rpr: a[3], jubo: a[4]}));

// ---- drawing ----
const FONT = "Liberation Serif";
const fig = document.getElementById("fig");
const colLeft = [131, 449, 767], rowTop = [2, 320, 638, 956], S = 312;
const dashes = ["12,4,2,4", "7,4", "15,6", null];
const X = d => d[0], Y = d => d[1];

function addCosLabel(svg, cx, base, val) {
  const g = d3.select(svg).append("g").attr("font-family", FONT).attr("fill", "black")
    .attr("text-anchor", "start").style("white-space", "pre");
  const mk = (t, fs, it) => g.append("text").attr("text-anchor", "start").attr("font-size", fs)
    .attr("font-style", it ? "italic" : null).style("white-space", "pre").text(t);
  const a = mk("cos ", 28), b = mk("θ", 28, true), k = mk("K", 21), cm = mk("c.m.", 17.5), e = mk(" = " + val, 28);
  const w = s => s.node().getComputedTextLength();
  const wa = w(a), wb = w(b), wk = w(k), wc = w(cm), we = w(e);
  const wkc = Math.max(wk, wc);
  let x = cx - (wa + wb + 1 + wkc + we) / 2;
  a.attr("x", x).attr("y", base); x += wa;
  b.attr("x", x).attr("y", base); x += wb + 1;
  k.attr("x", x).attr("y", base + 8);
  cm.attr("x", x).attr("y", base - 14);
  x += wkc;
  e.attr("x", x).attr("y", base);
}

panels.forEach((p, i) => {
  const col = i % 3, row = Math.floor(i / 3);
  const isLeft = col === 0;
  const hasX = row === 3 || (row === 2 && col === 2);
  const mL = isLeft ? 131 : 4, mR = 4, mT = 2, mB = hasX ? 95 : 4;
  const models = [p.km, p.bs, p.rpr, p.jubo];
  const marks = [
    Plot.ruleY(gridLines, {stroke: "#c8c8c8", strokeWidth: 1.5, strokeDasharray: "8,5"}),
    Plot.ruleX(p.data, {x: X, y1: d => d[1] - d[2], y2: d => d[1] + d[2], stroke: "black", strokeWidth: 2.2, clip: true}),
    Plot.dot(p.data, {x: X, y: Y, r: 4.8, fill: "black", clip: true}),
    ...models.map((m, j) => Plot.line(m, {x: X, y: Y, stroke: modelColors[j], strokeWidth: 2.2, strokeDasharray: dashes[j], curve: "catmull-rom", clip: true})),
    Plot.axisX({anchor: "bottom", ticks: xMinorTicks, tickSize: -7, strokeWidth: 1.5, tickFormat: () => "", label: null}),
    Plot.axisX({anchor: "top", ticks: xMinorTicks, tickSize: -7, strokeWidth: 1.5, tickFormat: () => "", label: null}),
    Plot.axisY({anchor: "left", ticks: yMinorTicks, tickSize: -7, strokeWidth: 1.5, tickFormat: () => "", label: null}),
    Plot.axisY({anchor: "right", ticks: yMinorTicks, tickSize: -7, strokeWidth: 1.5, tickFormat: () => "", label: null}),
    Plot.frame({stroke: "black", strokeWidth: 2})
  ];
  if (isLeft) marks.push(Plot.axisY({anchor: "left", ticks: yLabelTicks, tickSize: 0, tickPadding: 19, tickFormat: d => d.toFixed(1), fontSize: 28, label: null}));
  if (hasX) marks.push(Plot.axisX({anchor: "bottom", ticks: isLeft ? xLabelTicksShort : xLabelTicks, tickSize: 0, tickPadding: 19, tickFormat: d => d.toFixed(1), fontSize: 28, label: null}));
  const svg = Plot.plot({
    width: S + mL + mR, height: S + mT + mB,
    marginLeft: mL, marginRight: mR, marginTop: mT, marginBottom: mB,
    x: {domain: [1.7, 3.3]}, y: {domain: [-1.5, 1.5]},
    style: {fontFamily: FONT, background: "transparent", overflow: "visible", color: "black"},
    marks
  });
  svg.style.left = (colLeft[col] - mL) + "px";
  svg.style.top = (rowTop[row] - mT) + "px";
  fig.appendChild(svg);
  addCosLabel(svg, mL + 159, mT + 291, p.label);
  const s = d3.select(svg);
  if (isLeft) {
    const t = s.append("text").attr("font-family", FONT).attr("font-size", 34).attr("text-anchor", "middle")
      .attr("transform", `translate(38,${mT + 160}) rotate(-90)`);
    t.append("tspan").text("C");
    t.append("tspan").attr("font-size", 24).attr("dy", 7).text("z");
  }
  if (hasX) {
    s.append("text").attr("font-family", FONT).attr("font-size", 37).attr("text-anchor", "middle")
      .attr("x", mL + S / 2).attr("y", mT + S + 84).text("W (GeV)");
  }
});

// legend
const leg = document.createElement("div");
leg.id = "legend";
modelNames.forEach((n, j) => {
  const d = document.createElement("div");
  d.textContent = n;
  d.style.color = modelColors[j];
  d.style.top = (19 + j * 44) + "px";
  leg.appendChild(d);
});
fig.appendChild(leg);
</script></body></html>
